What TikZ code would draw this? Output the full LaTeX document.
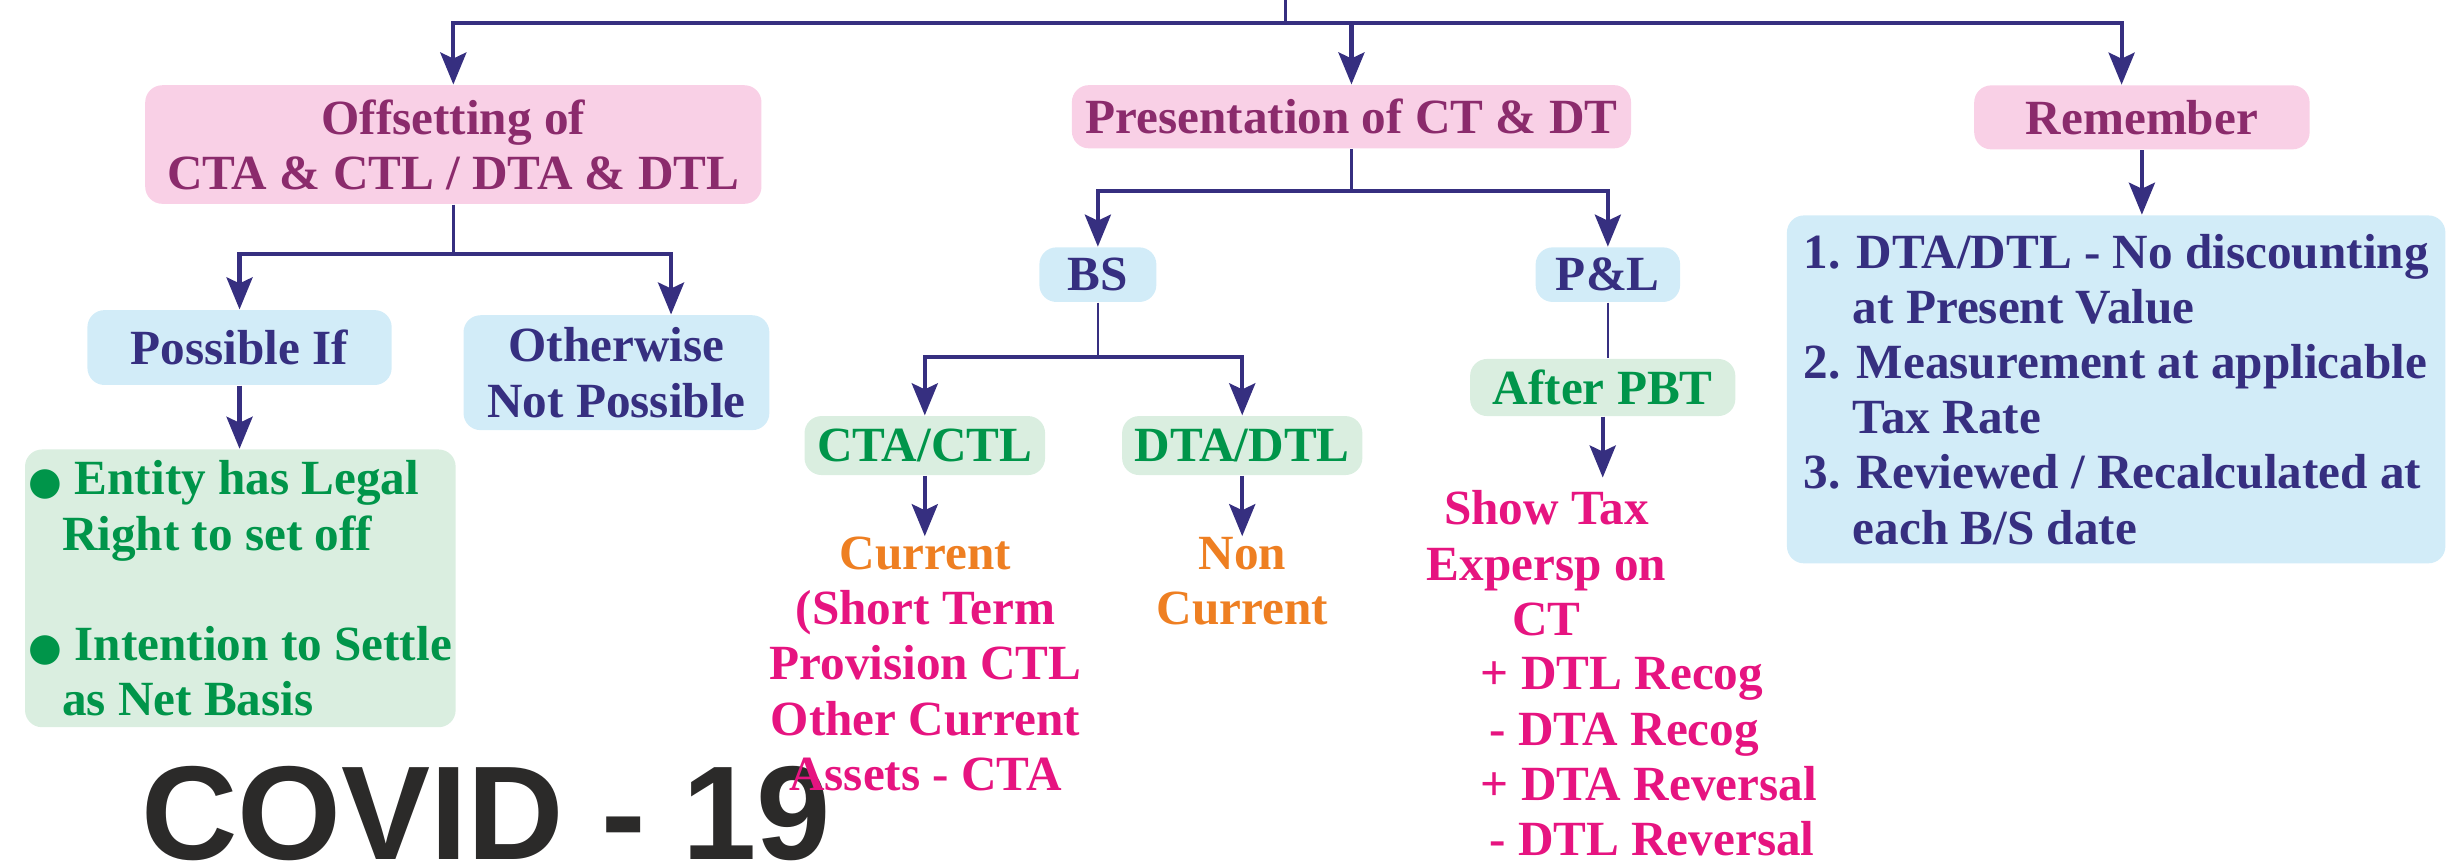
\documentclass[tikz,border=0pt]{standalone}
\usepackage{fontspec}
\setmainfont{Liberation Serif}
\newfontfamily\covidfont{Liberation Sans}
\newfontfamily\dotfont{DejaVu Sans}
\usepackage{xcolor}
\usetikzlibrary{arrows.meta,positioning,calc}

\definecolor{navyline}{RGB}{54,47,128}
\definecolor{boxpink}{RGB}{249,208,230}
\definecolor{titletext}{RGB}{139,43,108}
\definecolor{skyfill}{RGB}{210,236,248}
\definecolor{mintfill}{RGB}{218,238,224}
\definecolor{leafgreen}{RGB}{0,149,74}
\definecolor{ambertext}{RGB}{238,127,34}
\definecolor{rosetext}{RGB}{230,20,128}
\definecolor{covidgray}{RGB}{43,42,41}

\newcommand{\bulletdot}{{\dotfont\fontsize{11}{11}\selectfont ●}}

\begin{document}
\begin{tikzpicture}[x=0.015606cm, y=-0.015606cm,
    box/.style={rounded corners=0.17cm, inner sep=0pt, align=center, font=\fontsize{14}{15.7}\selectfont\bfseries},
    pinkbox/.style={box, fill=boxpink, text=titletext},
    skybox/.style={box, fill=skyfill, text=navyline},
    mintbox/.style={box, fill=mintfill, text=leafgreen},
    plain/.style={inner sep=0pt, font=\fontsize{14}{15.7}\selectfont\bfseries},
    link/.style={draw=navyline, line width=1.2pt, -{Stealth[length=3.2mm,width=2.6mm,inset=0.6mm]}},
    stem/.style={draw=navyline, line width=0.7pt}]
    \useasboundingbox (0,0) rectangle (1568,556);

    % Watermark
    \node [anchor=base west, inner sep=0pt, text=covidgray, font=\covidfont\fontsize{38}{40}\selectfont\bfseries] (covid) at (90,551) {COVID - 19};

    % Top level
    \node [pinkbox, minimum width=6.164cm, minimum height=1.186cm] (offset) at (290.5,92.6) {Offsetting of\\CTA \& CTL / DTA \& DTL};
    \node [pinkbox, minimum width=5.593cm, minimum height=0.632cm] (present) at (866,74.8) {Presentation of CT \& DT};
    \node [pinkbox, minimum width=3.355cm, minimum height=0.640cm] (remember) at (1372.5,75.2) {Remember};

    % Offsetting
    \node [skybox, minimum width=3.043cm, minimum height=0.749cm] (possible) at (153.5,222.7) {Possible If};
    \node [skybox, minimum width=3.059cm, minimum height=1.149cm] (otherwise) at (395,238.8) {Otherwise\\Not Possible};
    \node [mintbox, align=left, minimum width=4.307cm, minimum height=2.778cm] (conditions) at (154,377)
        {\bulletdot\ Entity has Legal\\\hspace*{9.5pt}Right to set off\\[15.7pt]\bulletdot\ Intention to Settle\\\hspace*{9.5pt}as Net Basis};

    % Presentation
    \node [skybox, minimum width=1.170cm, minimum height=0.546cm] (bs) at (703.5,176) {BS};
    \node [skybox, minimum width=1.445cm, minimum height=0.546cm] (pl) at (1030.3,176) {P\&L};
    \node [mintbox, minimum width=2.406cm, minimum height=0.590cm] (ctactl) at (592.6,285.5) {CTA/CTL};
    \node [mintbox, minimum width=2.403cm, minimum height=0.590cm] (dtadtl) at (796,285.5) {DTA/DTL};
    \node [mintbox, minimum width=2.653cm, minimum height=0.571cm] (afterpbt) at (1027,248.3) {After PBT};
    \node [plain, text=rosetext, align=center, anchor=north] (current) at (593,343.6)
        {{\color{ambertext}Current}\\(Short Term\\Provision CTL\\Other Current\\Assets - CTA};
    \node [plain, text=ambertext, align=center, anchor=north] (noncurrent) at (796,343.6) {Non\\Current};
    \node [plain, text=rosetext, align=center, anchor=north] (showtax) at (991,314) {Show Tax\\Expersp on\\CT};
    \node [plain, text=rosetext, align=left, anchor=north west] (taxmoves) at (948.5,421)
        {+ DTL Recog\\\kern2.4pt- DTA Recog\\+ DTA Reversal\\\kern2.4pt- DTL Reversal};

    % Remember
    \node [skybox, align=left, minimum width=6.586cm, minimum height=3.480cm] (rules) at (1356,249.5)
        {1. DTA/DTL - No discounting\\\phantom{1.}\ at Present Value\\2. Measurement at applicable\\\phantom{2.}\ Tax Rate\\3. Reviewed / Recalculated at\\\phantom{3.}\ each B/S date};

    % Connectors
    \coordinate (top) at (823.6,0);
    \coordinate (hub) at (823.6,14.5);
    \draw [stem] (top) -- (hub);
    \draw [link] (hub) -| (offset.north);
    \draw [link] (hub) -| (present.north);
    \draw [link] (hub) -| ($(remember.north)+(-13,0)$);

    \coordinate (ohub) at (290.5,162.8);
    \draw [stem] (offset) -- (ohub);
    \draw [link] (ohub) -| (possible.north);
    \draw [link] (ohub) -| ($(otherwise.north)+(35,0)$);
    \draw [link] (possible.south) -- (possible.south |- conditions.north);

    \coordinate (phub) at (866,122.4);
    \draw [stem] (present) -- (phub);
    \draw [link] (phub) -| (bs.north);
    \draw [link] (phub) -| (pl.north);
    \coordinate (bshub) at (703.5,229);
    \draw [stem] (bs) -- (bshub);
    \draw [link] (bshub) -| (ctactl.north);
    \draw [link] (bshub) -| (dtadtl.north);
    \draw [stem] (pl.south) -- (pl.south |- afterpbt.north);
    \draw [link] (ctactl.south) -- (ctactl.south |- current.north);
    \draw [link] (dtadtl.south) -- (dtadtl.south |- noncurrent.north);
    \draw [link] (afterpbt.south) -- ($(afterpbt.south |- showtax.north)+(0,-8)$);

    \draw [link] (remember) -- (remember |- rules.north);
\end{tikzpicture}
\end{document}
